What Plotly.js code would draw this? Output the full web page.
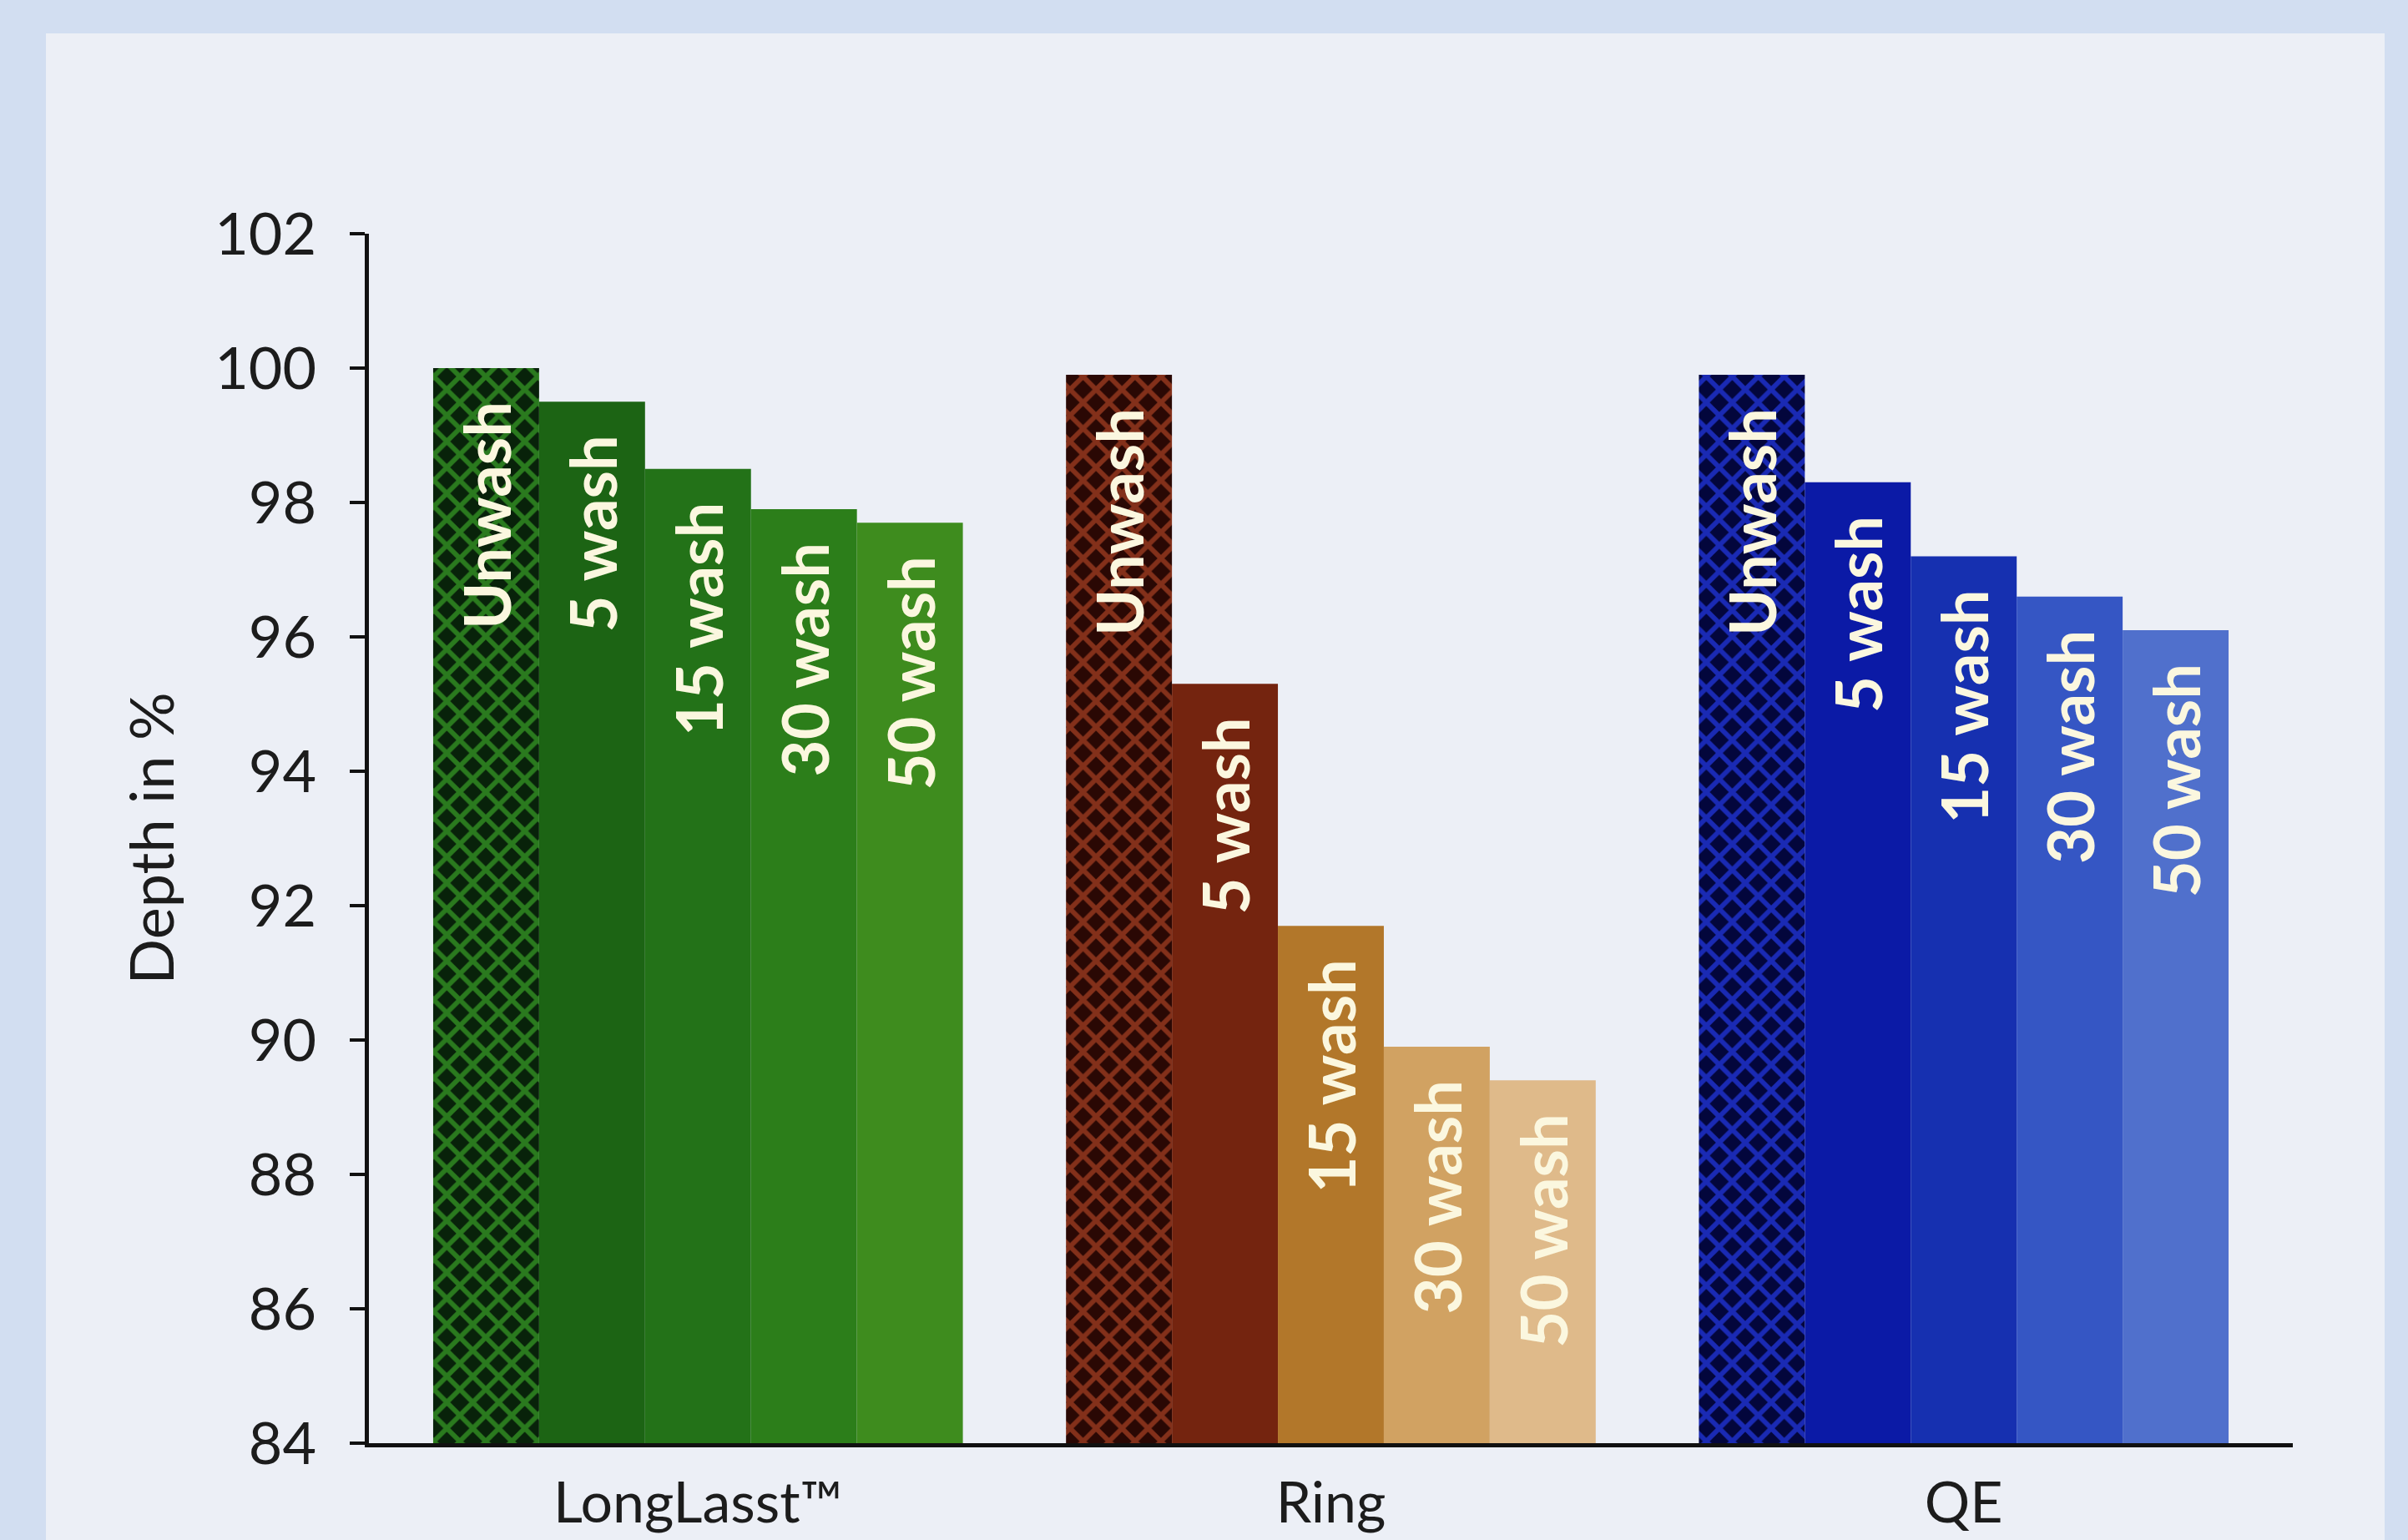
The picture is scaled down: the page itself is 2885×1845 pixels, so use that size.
<!DOCTYPE html>
<html>
<head>
<meta charset="utf-8">
<script src="https://cdn.plot.ly/plotly-3.0.1.min.js"></script>
<style>
  html, body { margin:0; padding:0; width:2885px; height:1845px; background:#d2def1; overflow:hidden; }
  #chart { position:absolute; left:55px; top:40px; width:2802px; height:1805px; }
</style>
</head>
<body>
<div id="chart"></div>
<script>
// ---- data ----
const categories = ['LongLasst\u2122', 'Ring', 'QE'];
const seriesNames = ['Unwash', '5 wash', '15 wash', '30 wash', '50 wash'];
const unwash = [100.0, 99.9, 99.9];
const wash5  = [99.5, 95.3, 98.3];
const wash15 = [98.5, 91.7, 97.2];
const wash30 = [97.9, 89.9, 96.6];
const wash50 = [97.7, 89.4, 96.1];
const yTicks = [84, 86, 88, 90, 92, 94, 96, 98, 100, 102];

// ---- styles ----
const seriesValues = [unwash, wash5, wash15, wash30, wash50];
const colors = [
  ['#08220a', '#2a0804', '#03063c'],   // unwash background (dark)
  ['#1c6414', '#74240f', '#0b1aa6'],
  ['#237218', '#b2772a', '#1630b0'],
  ['#2c7e1a', '#d1a262', '#3556c4'],
  ['#3e8c1e', '#dfba8a', '#5070cc']
];
const unwashLines = ['#2a7a1e', '#83301a', '#1a2ab4'];
const pad = '\u00a0\u00a0';
const textFont = { family: 'Lato', size: 76, color: '#fbf7df', weight: 700 };

function barTrace(name, xs, ys, marker, group) {
  return {
    type: 'bar', name: name, x: xs, y: ys, base: 0,
    offsetgroup: group,
    marker: marker,
    text: xs.map(() => name + pad),
    textposition: 'inside',
    insidetextanchor: 'end',
    textangle: -90,
    constraintext: 'none',
    insidetextfont: textFont,
    hoverinfo: 'x+y+name',
    showlegend: false
  };
}

const traces = [];
seriesValues.forEach((vals, i) => {
  if (i === 0) {
    categories.forEach((c, k) => {
      traces.push(barTrace(seriesNames[0], [c], [vals[k]], {
        color: colors[0][k], line: { width: 0 },
        pattern: { shape: 'x', fgcolor: unwashLines[k], bgcolor: colors[0][k], size: 22, solidity: 0.45, fillmode: 'overlay', fgopacity: 1 }
      }, 'g0'));
    });
  } else {
    traces.push(barTrace(seriesNames[i], categories, vals, { color: colors[i], line: { width: 0 } }, 'g' + i));
  }
});

const layout = {
  width: 2802, height: 1805,
  paper_bgcolor: '#eceff6',
  plot_bgcolor: 'rgba(0,0,0,0)',
  margin: { l: 387, r: 110, t: 240, b: 116 },
  barmode: 'group',
  bargap: 0.163,
  bargroupgap: 0,
  font: { family: 'Lato', size: 70, color: '#1c1c1c' },
  xaxis: {
    type: 'category',
    categoryarray: categories, categoryorder: 'array',
    range: [-0.52, 2.52],
    showline: true, linecolor: '#111', linewidth: 5,
    ticks: '', showgrid: false, zeroline: false,
    tickfont: { family: 'Lato', size: 68, color: '#1c1c1c' },
    ticklabelstandoff: 8
  },
  yaxis: {
    range: [84, 102],
    tickvals: yTicks,
    ticktext: yTicks.map(String),
    showline: true, linecolor: '#111', linewidth: 5,
    ticks: 'outside', ticklen: 18, tickwidth: 4, tickcolor: '#111',
    showgrid: false, zeroline: false,
    tickfont: { family: 'Lato', size: 70, color: '#1c1c1c' },
    ticklabelstandoff: 26,
    title: { text: 'Depth in %', font: { family: 'Lato', size: 72, color: '#1c1c1c' }, standoff: 26 }
  }
};

Plotly.newPlot('chart', traces, layout, { staticPlot: true, displayModeBar: false });
</script>
</body>
</html>
